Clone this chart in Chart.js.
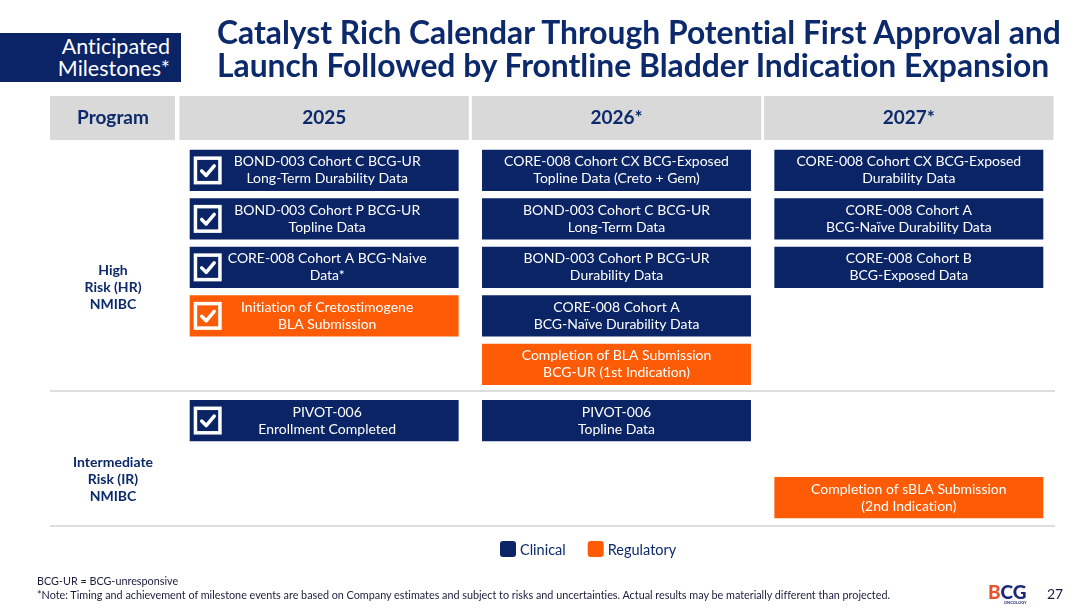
<!DOCTYPE html>
<html lang="en">
<head>
<meta charset="UTF-8">
<title>Anticipated Milestones</title>
<script src="https://cdn.jsdelivr.net/npm/chart.js"></script>
<style>
  html, body { margin: 0; padding: 0; background: #fff; }
  body { width: 1080px; height: 612px; position: relative; overflow: hidden; font-family: Lato, "Open Sans", sans-serif;
         font-variant-ligatures: none; }
  #wrap { position: absolute; left: 0; top: 0; width: 1080px; height: 612px; }
  .tag { position: absolute; left: 0; top: 33px; width: 181px; height: 49px; background: #0a2466; color: #fff;
         font-size: 21.5px; line-height: 22px; text-align: right; box-sizing: border-box; padding: 2px 11px 0 0; }
  .title { position: absolute; left: 217px; top: 16px; color: #0c2a6b; font-weight: 700; font-size: 31.8px;
           line-height: 33px; white-space: nowrap; }
  .notes { position: absolute; left: 37px; top: 574px; font-size: 10.8px; line-height: 14px; color: #1b1d3c; white-space: nowrap; }
  .logo { position: absolute; left: 988px; top: 583px; font-weight: 900; font-size: 19px; line-height: 17px; color: #1a2a78; }
  .logo .b { color: #e8542c; }
  .logo small { display: block; font-size: 4px; line-height: 5px; text-align: right; font-weight: 700; }
  .page { position: absolute; left: 1047px; top: 585px; font-size: 14px; color: #1b1d3c; }
</style>
</head>
<body>
  <div id="wrap"><canvas id="milestones"></canvas></div>
  <div class="tag">Anticipated<br>Milestones*</div>
  <div class="title">Catalyst Rich Calendar Through Potential First Approval and<br>Launch Followed by Frontline Bladder Indication Expansion</div>
  <div class="notes">BCG-UR = BCG-unresponsive<br>*Note: Timing and achievement of milestone events are based on Company estimates and subject to risks and uncertainties. Actual results may be materially different than projected.</div>
  <div class="logo"><span class="b">B</span>CG<small>ONCOLOGY</small></div>
  <div class="page">27</div>

<script>
// columns of the calendar
const years = ['2025', '2026*', '2027*'];
const headerRow = [0, 0.91];

// program groups (row labels) and where their sections end
const programs = [['High', 'Risk (HR)', 'NMIBC'], ['Intermediate', 'Risk (IR)', 'NMIBC']];
const programRows = [3.96, 7.92];
const sectionEnds = [6.08, 8.87];

// milestones
const milestoneText = [
  ['BOND-003 Cohort C BCG-UR', 'Long-Term Durability Data'],
  ['BOND-003 Cohort P BCG-UR', 'Topline Data'],
  ['CORE-008 Cohort A BCG-Naive', 'Data*'],
  ['Initiation of Cretostimogene', 'BLA Submission'],
  ['PIVOT-006', 'Enrollment Completed'],
  ['CORE-008 Cohort CX BCG-Exposed', 'Topline Data (Creto + Gem)'],
  ['BOND-003 Cohort C BCG-UR', 'Long-Term Data'],
  ['BOND-003 Cohort P BCG-UR', 'Durability Data'],
  ['CORE-008 Cohort A', 'BCG-Naïve Durability Data'],
  ['Completion of BLA Submission', 'BCG-UR (1st Indication)'],
  ['PIVOT-006', 'Topline Data'],
  ['CORE-008 Cohort CX BCG-Exposed', 'Durability Data'],
  ['CORE-008 Cohort A', 'BCG-Naïve Durability Data'],
  ['CORE-008 Cohort B', 'BCG-Exposed Data'],
  ['Completion of sBLA Submission', '(2nd Indication)']
];
const milestoneYear = ['2025', '2025', '2025', '2025', '2025',
                       '2026*', '2026*', '2026*', '2026*', '2026*', '2026*',
                       '2027*', '2027*', '2027*', '2027*'];
const milestoneRow = [1, 2, 3, 4, 6.16,
                      1, 2, 3, 4, 5, 6.16,
                      1, 2, 3, 7.75];
const milestoneType = ['Clinical', 'Clinical', 'Clinical', 'Regulatory', 'Clinical',
                       'Clinical', 'Clinical', 'Clinical', 'Clinical', 'Regulatory', 'Clinical',
                       'Clinical', 'Clinical', 'Clinical', 'Regulatory'];
const milestoneDone = [true, true, true, true, true,
                       false, false, false, false, false, false,
                       false, false, false, false];

const NAVY = '#0a2466';
const ORANGE = '#fe5b06';
const GRAY = '#d9d9d9';
const INK = '#0c2a6b';

function pointsFor(type) {
  const pts = [];
  milestoneText.forEach((t, i) => {
    if (milestoneType[i] !== type) return;
    pts.push({ x: milestoneYear[i], y: [milestoneRow[i] + 0.11, milestoneRow[i] + 0.96], text: t, done: milestoneDone[i] });
  });
  return pts;
}

function drawCheck(ctx, el) {
  const s = 28;
  const x = el.x - el.width / 2 + 4;
  const y = (el.y + el.base) / 2 - s / 2;
  ctx.save();
  ctx.strokeStyle = '#fff';
  ctx.lineWidth = 3.5;
  ctx.strokeRect(x + 1.75, y + 1.75, s - 3.5, s - 3.5);
  ctx.lineCap = 'round';
  ctx.lineJoin = 'round';
  ctx.beginPath();
  ctx.moveTo(x + 8, y + 14.5);
  ctx.lineTo(x + 12.5, y + 19);
  ctx.lineTo(x + 20.5, y + 9.5);
  ctx.stroke();
  ctx.restore();
}

const slidePlugin = {
  id: 'slide',
  beforeDatasetsDraw(chart) {
    const { ctx, chartArea, scales: { y } } = chart;
    const left = chartArea.left - 128, right = chartArea.left - 3;
    ctx.save();
    const top = y.getPixelForValue(headerRow[0]), bot = y.getPixelForValue(headerRow[1]);
    ctx.fillStyle = GRAY;
    ctx.fillRect(left, top, right - left, bot - top);
    ctx.strokeStyle = '#dedede';
    ctx.lineWidth = 2;
    sectionEnds.forEach(v => {
      const py = Math.round(y.getPixelForValue(v));
      ctx.beginPath();
      ctx.moveTo(left, py);
      ctx.lineTo(chartArea.right, py);
      ctx.stroke();
    });
    ctx.restore();
  },
  afterDatasetsDraw(chart) {
    const { ctx, chartArea, scales: { x, y } } = chart;
    const labelX = chartArea.left - 65;
    ctx.save();
    ctx.textAlign = 'center';
    ctx.textBaseline = 'middle';

    // header texts
    const hy = (y.getPixelForValue(headerRow[0]) + y.getPixelForValue(headerRow[1])) / 2;
    ctx.fillStyle = INK;
    ctx.font = 'bold 19px Lato';
    ctx.fillText('Program', labelX, hy);
    years.forEach(yr => ctx.fillText(yr, x.getPixelForValue(yr), hy));

    // program row labels
    ctx.font = 'bold 14px Lato';
    programs.forEach((lines, i) => {
      const cy = y.getPixelForValue(programRows[i]);
      lines.forEach((ln, k) => ctx.fillText(ln, labelX, cy + (k - 1) * 17));
    });

    // milestone texts and checkboxes
    ctx.font = '14px Lato';
    ctx.fillStyle = '#fff';
    [1, 2].forEach(di => {
      const ds = chart.data.datasets[di];
      chart.getDatasetMeta(di).data.forEach((el, i) => {
        const p = ds.data[i];
        const cy = (el.y + el.base) / 2;
        const cx = el.x + (p.done ? 3 : 0);
        p.text.forEach((ln, k) => ctx.fillText(ln, cx, cy + (k - 0.5) * 17));
        if (p.done) drawCheck(ctx, el);
      });
    });

    // legend
    const ly = chartArea.bottom + 23;
    let lx = chart.width / 2 - 40;
    ctx.textAlign = 'left';
    ctx.font = '14.5px Lato';
    [1, 2].forEach(di => {
      const ds = chart.data.datasets[di];
      ctx.fillStyle = ds.backgroundColor;
      ctx.beginPath();
      ctx.roundRect(lx, ly - 8, 16, 16, 3);
      ctx.fill();
      ctx.fillStyle = INK;
      ctx.fillText(ds.label, lx + 20, ly + 1);
      lx += 20 + ctx.measureText(ds.label).width + 22;
    });
    ctx.restore();
  }
};

new Chart(document.getElementById('milestones'), {
  type: 'bar',
  data: {
    labels: years,
    datasets: [
      {
        label: 'Header',
        data: years.map(yr => ({ x: yr, y: headerRow.slice() })),
        backgroundColor: GRAY,
        barPercentage: 0.99
      },
      {
        label: 'Clinical',
        data: pointsFor('Clinical'),
        backgroundColor: NAVY,
        barPercentage: 0.92
      },
      {
        label: 'Regulatory',
        data: pointsFor('Regulatory'),
        backgroundColor: ORANGE,
        barPercentage: 0.92
      }
    ]
  },
  options: {
    responsive: true,
    maintainAspectRatio: false,
    animation: false,
    events: [],
    grouped: false,
    categoryPercentage: 1,
    borderWidth: 0,
    borderSkipped: false,
    layout: { padding: { left: 178, right: 25, top: 96, bottom: 86 } },
    scales: {
      x: { display: false },
      y: { display: false, reverse: true, min: 0, max: 8.87 }
    },
    plugins: {
      legend: { display: false },
      tooltip: { enabled: false }
    }
  },
  plugins: [slidePlugin]
});
</script>
</body>
</html>
